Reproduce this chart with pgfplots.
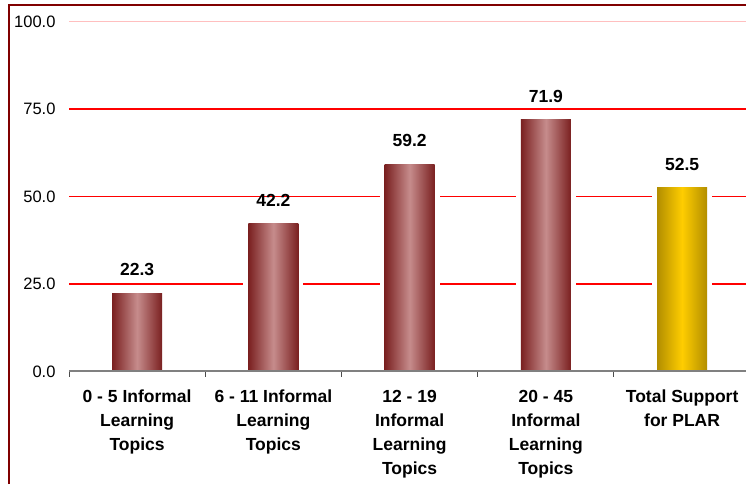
\documentclass[border=0pt]{standalone}
\usepackage{pgfplots}
\pgfplotsset{compat=1.18}
\usepackage{fontspec}
\setmainfont{Liberation Sans}
\definecolor{maroonE}{RGB}{122,32,32}
\definecolor{maroonC}{RGB}{198,140,140}
\definecolor{goldE}{RGB}{178,142,0}
\definecolor{goldC}{RGB}{255,205,0}
\definecolor{frameR}{RGB}{128,0,0}
\pgfplotsset{
  mbar/.style={ybar, bar width=50pt, bar shift=0pt, draw=none,
    left color=maroonE, right color=maroonE, middle color=maroonC,
    preaction={draw=white, line width=10pt}},
  gbar/.style={ybar, bar width=50pt, bar shift=0pt, draw=none,
    left color=goldE, right color=goldE, middle color=goldC,
    preaction={draw=white, line width=10pt}},
}
\begin{document}
\begin{tikzpicture}[x=1pt,y=1pt]
\path[use as bounding box] (0,0) rectangle (746,484);
\draw[frameR, line width=2.5pt] (9,0) -- (9,479) -- (746,479);
\begin{axis}[
  at={(69pt,112.5pt)}, anchor=south west,
  scale only axis, width=677pt, height=350pt,
  xmin=-0.5, xmax=4.469, ymin=0, ymax=100,
  /pgf/number format/assume math mode=true,
  ytick={0,25,50,75},
  extra y ticks={100}, extra y tick labels={100.0},
  extra y tick style={grid style={red!25, line width=1.5pt}, major tick length=0pt, tick style={draw=none}},
  ymajorgrids, grid style={red, line width=1.5pt},
  yticklabel style={xshift=-10pt, /pgf/number format/.cd, fixed, fixed zerofill, precision=1},
  ticklabel style={font=\fontsize{16.5}{20}\selectfont},
  ytick style={draw=none},
  axis line style={draw=none},
  xtick pos=bottom, ytick pos=left,
  xtick={0,1,2,3,4},
  xticklabels={{0 - 5 Informal\\Learning\\Topics},{6 - 11 Informal\\Learning\\Topics},{12 - 19\\Informal\\Learning\\Topics},{20 - 45\\Informal\\Learning\\Topics},{Total Support\\for PLAR}},
  major x tick style={draw=none},
  minor xtick={-0.5,0.5,1.5,2.5,3.5},
  minor x tick style={draw=gray!60!black, line width=1pt},
  tick align=outside, minor tick length=5pt, major tick length=0pt,
  xticklabel style={font=\fontsize{17.5}{24}\selectfont\bfseries, align=center, yshift=-15pt},
  nodes near coords={\pgfmathprintnumber[fixed,fixed zerofill,precision=1]{\pgfplotspointmeta}},
  every node near coord/.append style={font=\fontsize{17.5}{20}\selectfont\bfseries, text=black, yshift=14pt},
  after end axis/.code={\draw[gray, line width=2pt] (rel axis cs:0,0) -- (rel axis cs:1,0);},
]
\addplot[mbar] coordinates {(0,22.3)};
\addplot[mbar] coordinates {(1,42.2)};
\addplot[mbar] coordinates {(2,59.2)};
\addplot[mbar] coordinates {(3,71.9)};
\addplot[gbar] coordinates {(4,52.5)};
\end{axis}
\end{tikzpicture}
\end{document}
